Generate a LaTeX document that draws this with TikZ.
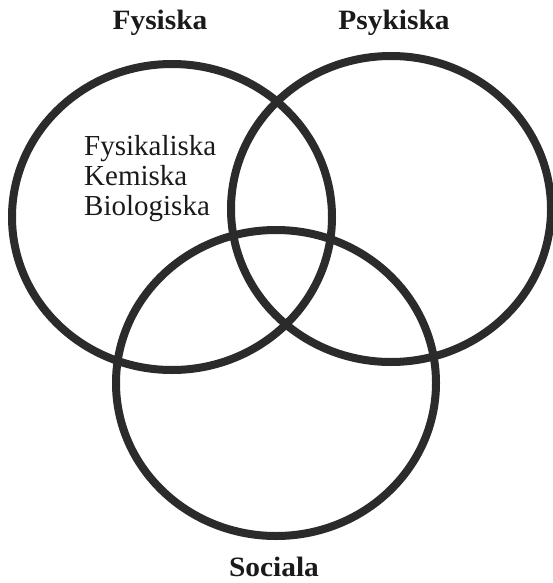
\documentclass[tikz,border=0pt]{standalone}
\usepackage{fontspec}
\setmainfont{Liberation Serif}
\newfontfamily\rubrikfont[FakeStretch=1.05]{Liberation Serif}
\usepackage{xcolor}
\definecolor{ringgray}{HTML}{2B2B2B}
\definecolor{textblack}{HTML}{1A1A1A}

\begin{document}
\begin{tikzpicture}[x=1pt,y=-1pt,every node/.style={text=textblack,inner sep=0pt},
    rubrik/.style={anchor=base,font=\rubrikfont\bfseries\fontsize{28}{28}\selectfont}]
    \useasboundingbox (0,0) rectangle (552,583);
    \foreach \cx/\cy in {172/217, 391/209, 276/383} {
      \draw[line width=8pt,ringgray] (\cx,\cy) ellipse [x radius=160,y radius=153];
    }
    \node[rubrik] (fysiska) at (160,30) {Fysiska};
    \node[rubrik] (psykiska) at (394,30) {Psykiska};
    \node[rubrik] (sociala) at (274,576) {Sociala};
    \node[anchor=north west,align=left,font=\fontsize{29}{30}\selectfont] (lista) at (84,135) {Fysikaliska\\Kemiska\\Biologiska};
  \end{tikzpicture}
\end{document}
